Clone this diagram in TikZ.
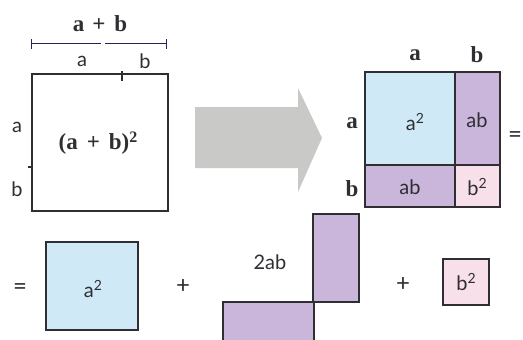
\documentclass[tikz,border=0pt]{standalone}
\usepackage{fontspec}
\setmainfont{Lato}
\newfontfamily\bserif{Liberation Serif}
\definecolor{sqblue}{HTML}{CFEAF6}
\definecolor{sqpurple}{HTML}{C9B6DA}
\definecolor{sqpink}{HTML}{F7E0EA}
\definecolor{arrowgray}{HTML}{C9C9C7}
\definecolor{ink}{HTML}{2E2E33}
\newcommand{\sqr}[1]{#1\raisebox{0.6ex}{\fontsize{14}{15}\selectfont 2}}
\begin{document}
\begin{tikzpicture}[x=1pt,y=-1pt,
  lab/.style={font=\fontsize{20}{22}\selectfont, text=ink, inner sep=0pt},
  op/.style={font=\fontsize{24}{26}\selectfont, text=ink, inner sep=0pt},
  blab/.style={font=\bserif\bfseries\fontsize{23}{25}\selectfont, text=ink, inner sep=0pt},
  box/.style={draw=ink, line width=1.1pt},
  dim/.style={draw=ink!80!blue, line width=0.9pt}]
\useasboundingbox (0,0) rectangle (523,340);
% top dimension line
\node[blab] (apb) at (100,24) {a\hspace{8pt}+\hspace{9pt}b};
\draw[dim] (31,39) -- (31,49);
\draw[dim] (166,39) -- (166,49);
\draw[dim] (31,43) -- (101,43);
\draw[dim] (105,43) -- (166,43);
\node[lab] (ta) at (82,61) {a};
\node[lab] (tb) at (145,61) {b};
% big square
\draw[box] (32,74) rectangle (168,211);
\draw[box] (122,71) -- (122,81);
\draw[box] (28,167) -- (33,167);
\node[lab] (la) at (17,127) {a};
\node[lab] (lb) at (17,189) {b};
\node[font=\bserif\bfseries\fontsize{23}{25}\selectfont, text=ink, inner sep=0pt] (sq) at (98,143) {(a\hspace{9pt}+\hspace{9pt}b)\raisebox{0.7ex}{\fontsize{16}{17}\selectfont 2}};
% arrow
\fill[arrowgray] (195,107) -- (298,107) -- (298,88) -- (322,138) -- (298,192) -- (298,168) -- (195,168) -- cycle;
% right decomposed square
\fill[sqblue] (365,72) rectangle (455,165);
\fill[sqpurple] (455,72) rectangle (500,165);
\fill[sqpurple] (365,165) rectangle (455,207);
\fill[sqpink] (455,165) rectangle (500,207);
\draw[box] (365,72) rectangle (500,207);
\draw[box] (455,72) -- (455,207);
\draw[box] (365,165) -- (500,165);
\node[blab] (ra) at (415,55) {a};
\node[blab] (rb) at (477,55) {b};
\node[blab] (rla) at (352,123) {a};
\node[blab] (rlb) at (352,189) {b};
\node[lab] (ra2) at (415,122) {\sqr{a}};
\node[lab] (rab1) at (477,120) {ab};
\node[lab] (rab2) at (410,187) {ab};
\node[lab] (rb2) at (477,187) {\sqr{b}};
\node[op] (eq1) at (515,137) {=};
% bottom row
\node[op] (eq2) at (20,289) {=};
\fill[sqblue] (46,242) rectangle (138,330);
\draw[box] (46,242) rectangle (138,330);
\node[lab] (ba2) at (93,289) {\sqr{a}};
\node[op] (p1) at (183,287) {+};
\node[lab] (twoab) at (270,262) {2ab};
\fill[sqpurple] (313,214) rectangle (359,302);
\draw[box] (313,214) rectangle (359,302);
\fill[sqpurple] (223,302) rectangle (314,350);
\draw[box] (223,350) -- (223,302) -- (314,302) -- (314,350);
\node[op] (p2) at (403,285) {+};
\fill[sqpink] (443,259) rectangle (489,305);
\draw[box] (443,259) rectangle (489,305);
\node[lab] (bb2) at (466,282) {\sqr{b}};
\end{tikzpicture}
\end{document}
